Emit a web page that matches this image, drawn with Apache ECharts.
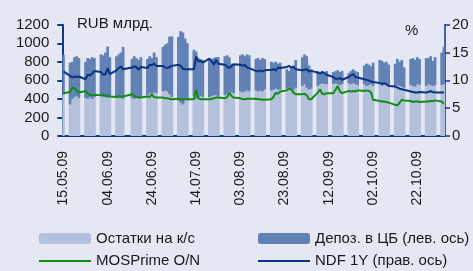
<!DOCTYPE html>
<html><head><meta charset="utf-8">
<script src="https://cdn.jsdelivr.net/npm/echarts@6/dist/echarts.min.js"></script>
<style>html,body{margin:0;padding:0;background:#e5e8f2}#c{width:473px;height:271px}</style>
</head><body><div id="c"></div>
<script>
// calendar axis: 15.05.09 .. 03.11.09, business days carry data
const startDate = '2009-05-15';
const dayCount = 173;
const holidays = ['12.06.09'];
const tickLabels = ['15.05.09','04.06.09','24.06.09','14.07.09','03.08.09','23.08.09','12.09.09','02.10.09','22.10.09'];

// values per business day (RUB bn)
const ostatki = [450,
 340,400,420,430,410, 410,400,420,400,420, 430,420,420,410,420, 420,410,420,400,
 410,400,410,400,420, 440,460,450,470,460, 480,490,480,450,420, 380,360,340,400,400,
 430,400,420,430,420, 420,430,440,440,430, 440,450,440,470,460, 480,470,480,490,480,
 490,480,490,480,500, 490,500,510,500,500, 510,520,510,500,520, 540,560,520,500,510,
 540,560,570,560,560, 560,570,560,550,560, 570,560,570,560,550, 560,540,550,560,540,
 560,540,550,560,540, 520,550,540,530,520, 550,540,530,560,550, 540,560,550,540,550,
 550,560];
const depoz = [425,
 450,400,430,430,430, 390,440,410,450,420, 450,450,480,555,430, 440,470,480,560,
 420,460,430,420,430, 390,400,390,430,390, 480,495,520,620,655, 690,770,775,650,600,
 500,510,420,400,400, 400,400,400,410,420, 420,420,410,310,310, 390,410,380,390,390,
 340,360,330,360,330, 310,290,290,280,290, 210,180,230,260,300, 310,320,340,260,210,
 160,130,130,120,140, 130,130,150,140,140, 110,140,150,140,140, 200,240,220,190,250,
 260,270,240,240,230, 260,280,260,290,220, 280,300,290,290,280, 300,280,310,270,300,
 350,400];
// rates, %
const mosprime = [7.7,
 7.9,8.7,8.6,8.1,7.8, 8.1,7.6,7.4,7.3,7.4, 7.3,7.4,7.2,7.3,7.1, 7.0,7.2,7.0,7.1,
 7.5,7.2,7.0,7.0,6.9, 7.1,7.0,7.4,7.0,6.9, 6.9,6.8,6.8,6.7,6.6, 6.7,6.6,6.5,6.6,6.6,
 6.6,8.3,6.8,6.6,6.6, 6.6,6.7,6.8,6.9,6.9, 6.8,7.0,7.7,7.2,6.9, 6.8,6.6,6.6,6.7,6.7,
 6.7,6.6,6.6,6.5,6.5, 6.6,7.0,7.8,7.6,8.0, 8.2,8.5,8.4,7.8,7.5, 7.5,7.6,7.3,6.6,6.6,
 7.8,8.4,7.6,7.5,7.7, 7.7,8.3,9.0,8.0,7.7, 8.1,8.0,8.1,8.0,8.2, 8.1,8.2,8.1,7.9,6.5,
 6.3,6.2,6.2,6.1,6.0, 5.6,5.5,6.0,6.5,6.4, 6.3,6.1,6.2,6.2,6.1, 6.2,6.2,6.3,6.3,6.4,
 6.2,5.8];
const ndf = [11.6,
 10.8,10.5,10.7,10.6,10.7, 10.2,11.0,10.9,11.2,11.7, 11.5,11.0,11.1,12.2,11.1, 11.8,12.2,12.5,12.0,
 12.3,12.5,12.4,11.9,12.4, 12.2,12.8,12.7,13.0,12.6, 12.6,12.3,12.2,12.4,12.6, 12.8,12.6,12.1,12.0,12.0,
 12.0,14.3,13.4,13.5,13.2, 13.9,13.4,12.8,13.7,13.0, 12.8,12.5,12.2,12.6,12.9, 12.8,12.6,12.8,12.3,12.2,
 11.7,11.6,11.8,11.6,11.8, 11.9,12.0,11.8,12.3,12.2, 12.4,12.6,12.3,12.4,12.0, 11.8,11.9,12.0,11.6,11.7,
 11.4,11.2,11.5,11.3,11.0, 10.6,10.3,10.3,10.4,10.1, 10.6,10.9,11.1,10.6,10.5, 10.2,10.1,10.0,9.8,9.7,
 9.5,9.4,9.5,9.3,9.0, 8.9,8.7,8.5,8.4,8.3, 8.0,7.9,7.8,7.8,7.9, 7.8,7.9,8.1,7.9,7.8,
 7.8,7.8];

// build calendar categories and map business-day values onto them
const categories = [];
const isWork = [];
const d0 = new Date(startDate + 'T00:00:00Z');
for (let k = 0; k < dayCount; k++) {
  const d = new Date(d0.getTime() + k * 86400000);
  const s = String(d.getUTCDate()).padStart(2,'0') + '.' + String(d.getUTCMonth()+1).padStart(2,'0') + '.' + String(d.getUTCFullYear()).slice(2);
  categories.push(s);
  const wd = d.getUTCDay();
  isWork.push(wd !== 0 && wd !== 6 && holidays.indexOf(s) < 0);
}
function spread(arr) {
  const out = []; let j = 0;
  for (let k = 0; k < dayCount; k++) out.push(isWork[k] && j < arr.length ? arr[j++] : null);
  return out;
}

const C = {
  bg: '#e5e8f2', light: '#b3c1dc', dark: '#6281b5', green: '#118c14', blue: '#0b3383', axis: '#0b3a8e', text: '#1a1a1a'
};
const font = 'Liberation Sans, Arial, sans-serif';
const chart = echarts.init(document.getElementById('c'), null, {renderer: 'canvas'});
const legendBase = {itemWidth: 52, itemHeight: 11, itemGap: 5, textStyle: {fontFamily: font, fontSize: 15, color: C.text}, selectedMode: false, padding: 0};
const lineIcon = 'path://M0,0L52,0L52,2L0,2Z';
chart.setOption({
  backgroundColor: C.bg,
  animation: false,
  grid: {left: 62.3, right: 28, top: 24.7, height: 111.3, containLabel: false},
  legend: [
    Object.assign({}, legendBase, {data: ['Остатки на к/с'], left: 39, top: 231}),
    Object.assign({}, legendBase, {data: ['Депоз. в ЦБ (лев. ось)'], left: 258, top: 231}),
    Object.assign({}, legendBase, {data: [{name: 'MOSPrime O/N', icon: lineIcon}], itemHeight: 2, left: 39, top: 253.5}),
    Object.assign({}, legendBase, {data: [{name: 'NDF 1Y (прав. ось)', icon: lineIcon}], itemHeight: 2, left: 258, top: 253.5})
  ],
  graphic: [
    {type: 'text', left: 77, top: 16, style: {text: 'RUB млрд.', fontFamily: font, fontSize: 15, fill: C.text}},
    {type: 'text', left: 405, top: 23, style: {text: '%', fontFamily: font, fontSize: 15, fill: C.text}}
  ],
  xAxis: {
    type: 'category', data: categories, boundaryGap: true,
    axisLine: {lineStyle: {color: C.axis, width: 2}},
    axisTick: {interval: 19, length: 7, lineStyle: {color: C.axis, width: 2}},
    axisLabel: {interval: 19, rotate: 90, margin: 15, fontFamily: font, fontSize: 14, color: C.text,
      formatter: function (v) { return tickLabels.indexOf(v) >= 0 ? v : ''; }},
    splitLine: {show: false}
  },
  yAxis: [
    {type: 'value', min: 0, max: 1200, interval: 200, position: 'left',
     axisLine: {show: true, lineStyle: {color: C.axis, width: 2}},
     axisTick: {show: true, inside: false, length: 5, lineStyle: {color: C.axis, width: 2}},
     axisLabel: {margin: 13, fontFamily: font, fontSize: 15, color: C.text, formatter: function (v) { return String(v); }},
     splitLine: {show: false}},
    {type: 'value', min: 0, max: 20, interval: 5, position: 'right',
     axisLine: {show: true, lineStyle: {color: C.axis, width: 1.5}},
     axisTick: {show: true, inside: false, length: 5, lineStyle: {color: C.axis, width: 1.5}},
     axisLabel: {margin: 7, fontFamily: font, fontSize: 15, color: C.text, formatter: function (v) { return String(v); }},
     splitLine: {show: false}}
  ],
  series: [
    {name: 'Остатки на к/с', type: 'bar', stack: 'a', data: spread(ostatki), barWidth: '125%', barCategoryGap: '0%', itemStyle: {color: C.light}},
    {name: 'Депоз. в ЦБ (лев. ось)', type: 'bar', stack: 'a', data: spread(depoz), barWidth: '125%', barCategoryGap: '0%', itemStyle: {color: C.dark}},
    {name: 'MOSPrime O/N', type: 'line', yAxisIndex: 1, data: spread(mosprime), connectNulls: true, symbol: 'none', lineStyle: {color: C.green, width: 2}, itemStyle: {color: C.green}},
    {name: 'NDF 1Y (прав. ось)', type: 'line', yAxisIndex: 1, data: spread(ndf), connectNulls: true, symbol: 'none', lineStyle: {color: C.blue, width: 2}, itemStyle: {color: C.blue}}
  ]
});
</script>
</body></html>
